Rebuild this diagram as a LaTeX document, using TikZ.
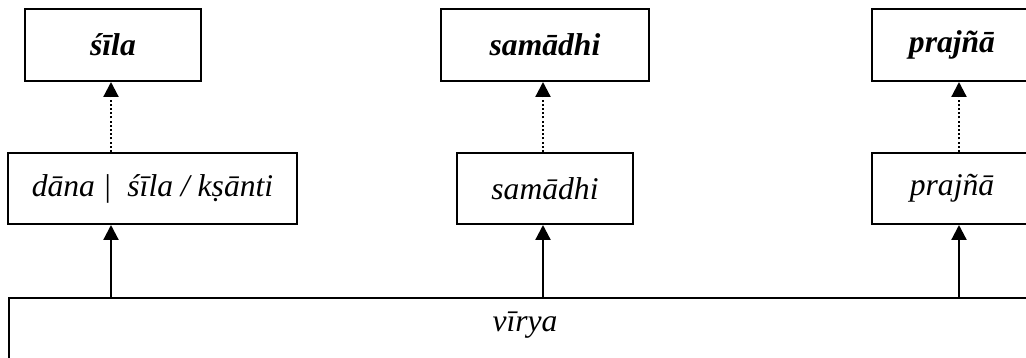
\documentclass[tikz,border=0pt]{standalone}
\usepackage{fontspec}
\setmainfont{Liberation Serif}
\usetikzlibrary{arrows.meta}
\begin{document}
\begin{tikzpicture}[x=1pt,y=-1pt,
  box/.style={draw, line width=2pt, inner sep=0pt, font=\fontsize{31.6}{38}\selectfont\itshape},
  topbox/.style={box, font=\fontsize{31.6}{38}\selectfont\bfseries\itshape},
  solidarrow/.style={line width=2.2pt, -{Triangle[width=15pt,length=15pt]}},
  dotarrow/.style={line width=2.2pt, dash pattern=on 2pt off 2.2pt, -{Triangle[width=15pt,length=15pt]}}]
\useasboundingbox (0,0) rectangle (1026,358);
\clip (0,0) rectangle (1026,358);
% top row
\node[topbox, minimum width=176, minimum height=72] (top1) at (113,45) {śīla};
\node[topbox, minimum width=208, minimum height=72] (top2) at (545,45) {samādhi};
\node[topbox, minimum width=160, minimum height=72] (top3) at (952,45) {prajñā};
% middle row
\node[box, minimum width=289, minimum height=71] (mid1) at (152.5,188.5) {dāna |\ \ śīla / kṣānti};
\node[box, minimum width=176, minimum height=71] (mid2) at (545,188.5) {samādhi};
\node[box, minimum width=160, minimum height=71] (mid3) at (952,188.5) {prajñā};
% bottom
\node[box, anchor=north west, minimum width=1032, inner ysep=0pt, text height=33pt, text depth=60pt] (bot) at (8,297) {vīrya};
% arrow positions
\coordinate (a1) at (111,0);
\coordinate (a2) at (543,0);
\coordinate (a3) at (959,0);
\foreach \i in {1,2,3}{
  \draw[solidarrow] (bot.north -| a\i) -- (mid\i.south -| a\i);
  \draw[dotarrow] (mid\i.north -| a\i) -- (top\i.south -| a\i);
}
\end{tikzpicture}
\end{document}
